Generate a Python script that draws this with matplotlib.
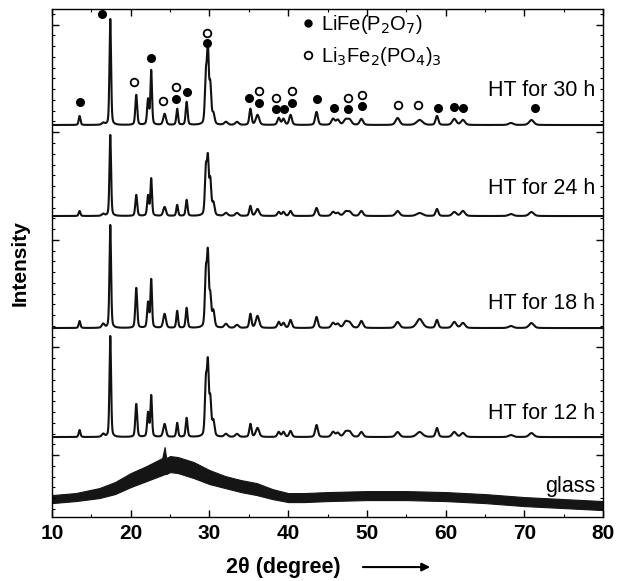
import numpy as np
import matplotlib
matplotlib.use("Agg")
import matplotlib.pyplot as plt
from matplotlib.lines import Line2D

plt.rcParams['font.family'] = ['Liberation Sans', 'DejaVu Sans']

# --- data -----------------------------------------------------------------
# reflection positions (2theta, degree) and widths (FWHM, degree)
peak_pos = [13.5, 16.5, 17.4, 20.7, 22.2, 22.6, 24.3, 25.9, 27.1, 29.55, 29.8,
            30.1, 30.5, 32.1, 33.5, 35.2, 36.1, 38.8, 39.4, 40.3, 43.6, 45.7,
            46.3, 47.3, 47.8, 49.3, 53.9, 56.7, 58.9, 61.1, 62.2, 68.3, 70.9]
peak_fwhm = [0.26, 0.4, 0.24, 0.28, 0.28, 0.24, 0.4, 0.26, 0.28, 0.3, 0.26,
             0.3, 0.35, 0.5, 0.5, 0.32, 0.5, 0.4, 0.4, 0.4, 0.4, 0.5,
             0.5, 0.6, 0.6, 0.5, 0.6, 0.9, 0.4, 0.6, 0.6, 0.7, 0.7]

# peak heights for every annealing time (arbitrary units)
h30 = [9, 2, 106, 30, 25, 54, 11, 16, 23, 48, 70, 38, 10, 3, 3, 16, 10, 7, 6,
       10, 13, 6, 5, 5, 5, 6, 7, 5, 9, 6, 5, 2, 5]
h24 = [5, 2, 81, 21, 20, 37, 9, 11, 16, 46, 50, 34, 12, 3, 3, 10, 7, 4, 4,
       5, 8, 4, 3, 4, 4, 5, 5, 3, 7, 4, 5, 2, 4]
h18 = [7, 4, 103, 40, 25, 48, 14, 17, 20, 54, 66, 30, 16, 4, 3, 14, 12, 6, 5,
       8, 11, 5, 4, 6, 5, 7, 6, 9, 8, 6, 5, 2, 5]
h12 = [7, 3, 101, 33, 24, 41, 13, 14, 19, 54, 65, 36, 15, 3, 3, 13, 9, 5, 5,
       6, 12, 5, 4, 5, 5, 5, 5, 5, 9, 5, 4, 2, 4]
baselines = [392, 301, 189, 80]
trace_labels = ['HT for 30 h', 'HT for 24 h', 'HT for 18 h', 'HT for 12 h']
label_y = [427, 329, 214, 104]

# glass: amorphous hump, lower / upper edge of the noisy band
glass_x = [10, 13, 16, 18, 20, 22, 24, 24.3, 24.5, 25, 26, 28, 30, 32, 34, 36,
           38, 40, 42, 45, 50, 55, 60, 65, 70, 75, 80]
glass_lo = [14, 16, 19, 23, 30, 36, 42, 43, 43, 45, 44, 39, 33, 29, 25, 22,
            18, 15, 15, 16, 17, 17, 16, 14, 11, 9, 7]
glass_hi = [22, 24, 29, 35, 44, 51, 59, 70, 59, 61, 60, 55, 47, 41, 37, 34,
            28, 24, 24, 25, 26, 26, 25, 23, 20, 18, 16]

# phase markers on the 30 h pattern
lifep_x = [13.5, 16.4, 22.6, 25.8, 27.2, 29.7, 35.0, 36.3, 38.5, 39.5, 40.5,
           43.7, 45.8, 47.6, 49.4, 59.0, 61.1, 62.2, 71.3]
lifep_y = [415, 503, 459, 418, 425, 474, 419, 414, 408, 408, 414,
           418, 409, 408, 411, 409, 410, 409, 409]
lfp_x = [20.4, 24.1, 25.8, 29.7, 36.3, 38.5, 40.5, 47.6, 49.4, 53.9, 56.5]
lfp_y = [435, 416, 430, 484, 426, 419, 426, 419, 422, 412, 412]


def pattern(x, heights):
    y = np.zeros_like(x)
    for p, w, h in zip(peak_pos, peak_fwhm, heights):
        g = np.exp(-4 * np.log(2) * ((x - p) / w) ** 2)
        l = 1 / (1 + 4 * ((x - p) / w) ** 2)
        y += h * (0.65 * g + 0.35 * l)
    return y


fig = plt.figure(figsize=(6.23, 5.81), dpi=100)
ax = fig.add_axes([0.0835, 0.110, 0.8845, 0.8745])

x = np.linspace(10, 80, 7001)
for hs, b in zip([h30, h24, h18, h12], baselines):
    ax.plot(x, b + pattern(x, hs), color='#111111', lw=1.5)

ax.fill_between(glass_x, glass_lo, glass_hi, color='#151515', lw=0.8)

for lab, ly in zip(trace_labels + ['glass'], label_y + [31]):
    ax.text(79.0, ly, lab, ha='right', va='center', fontsize=15.5)

ax.plot(lifep_x, lifep_y, 'o', color='black', ms=5.5, ls='none')
ax.plot(lfp_x, lfp_y, 'o', mfc='none', mec='black', mew=1.3, ms=5.5, ls='none')

handles = [Line2D([], [], marker='o', color='black', ls='none', ms=5),
           Line2D([], [], marker='o', mfc='none', mec='black', mew=1.3,
                  ls='none', ms=5.5)]
ax.legend(handles, ['LiFe(P$_2$O$_7$)', 'Li$_3$Fe$_2$(PO$_4$)$_3$'],
          loc='upper left', bbox_to_anchor=(0.43, 1.02), frameon=False,
          fontsize=14.5, handlelength=0.5, handletextpad=0.4, labelspacing=0.45,
          borderpad=0.2)

ax.set_xlim(10, 80)
ax.set_xticks(np.arange(10, 81, 10))
ax.set_xticks(np.arange(10, 81, 5), minor=True)
ax.set_yticks(np.arange(62, 508, 107.6))
ax.set_yticks(np.arange(62 - 5 * 10.76, 508, 10.76), minor=True)
ax.set_ylim(0, 508)
ax.tick_params(which='both', direction='in', top=True, right=True, labelleft=False)
ax.tick_params(which='major', length=5, width=1)
ax.tick_params(which='minor', length=2.5, width=0.8)
for lbl in ax.get_xticklabels():
    lbl.set_fontweight('bold')
    lbl.set_fontsize(15)
ax.tick_params(axis='x', pad=5)
for s in ax.spines.values():
    s.set_linewidth(1.0)

ax.set_ylabel('Intensity', fontsize=15, fontweight='bold', labelpad=16)
fig.text(0.455, 0.024, '2\u03b8 (degree)', ha='center', va='center',
         fontsize=15.5, fontweight='bold')
fig.add_artist(matplotlib.patches.FancyArrowPatch(
    (0.578, 0.024), (0.695, 0.024), transform=fig.transFigure,
    arrowstyle='-|>', mutation_scale=12, color='black', lw=1.5))

fig.savefig('out.png', dpi=100)
